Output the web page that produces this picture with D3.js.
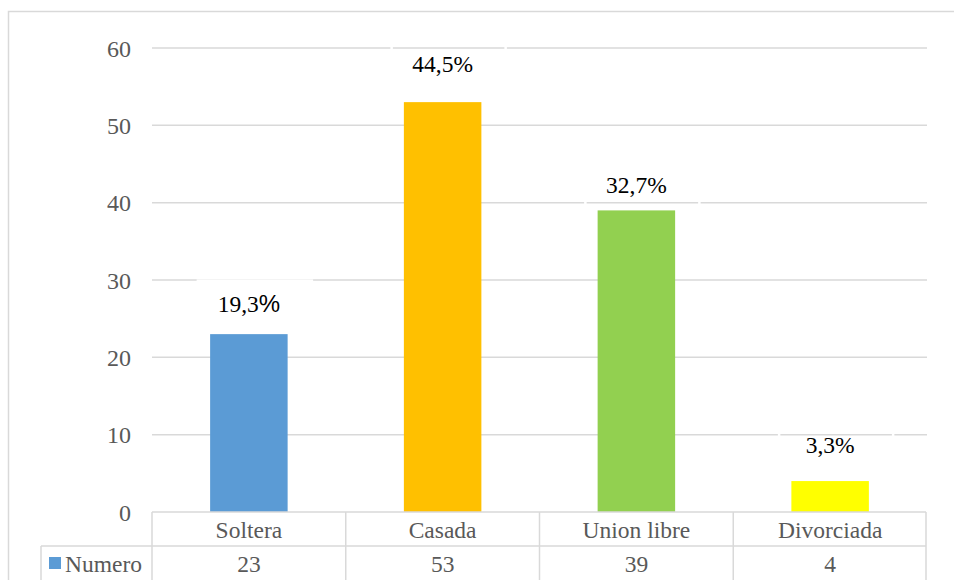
<!DOCTYPE html>
<html>
<head>
<meta charset="utf-8">
<script src="https://cdn.jsdelivr.net/npm/d3@7"></script>
<style>
  html, body { margin: 0; padding: 0; background: #fff; }
  svg { display: block; }
</style>
</head>
<body>
<svg id="chart" width="954" height="580"></svg>
<script>
// Estado civil: number of women per category, with share labels
const categories = ["Soltera", "Casada", "Union libre", "Divorciada"];
const numero = [23, 53, 39, 4];
const shareLabels = ["19,3%", "44,5%", "32,7%", "3,3%"];
const barColors = ["#5B9BD5", "#FFC000", "#92D050", "#FFFF00"];
const yTicks = [0, 10, 20, 30, 40, 50, 60];
const seriesName = "Numero";

const svg = d3.select("#chart");
const W = 954, H = 580;
const plot = { left: 152, right: 927, top: 48, bottom: 512 };
const grey = "#595959";
const lineCol = "#D9D9D9";
const serif = "Liberation Serif, Times New Roman, serif";

// outer chart frame
svg.append("rect")
  .attr("x", 8.5).attr("y", 11.5)
  .attr("width", W + 10).attr("height", H + 10)
  .attr("fill", "#fff").attr("stroke", lineCol).attr("stroke-width", 1.5);

const x = d3.scaleBand().domain(categories).range([plot.left, plot.right]).paddingInner(0.6).paddingOuter(0.3);
const band = d3.scaleBand().domain(categories).range([plot.left, plot.right]);
const y = d3.scaleLinear().domain([0, 60]).range([plot.bottom, plot.top]);
const mid = d => band(d) + band.bandwidth() / 2;

// data labels were nudged individually above their bars
const labelLift = [22, 30, 17, 28];
const labelY = i => y(numero[i]) - labelLift[i];

// horizontal gridlines
svg.append("g").selectAll("line").data(yTicks.filter(t => t > 0)).join("line")
  .attr("x1", plot.left).attr("x2", plot.right)
  .attr("y1", d => y(d)).attr("y2", d => y(d))
  .attr("stroke", lineCol).attr("stroke-width", 1.5);

// y axis labels
const yAxis = d3.axisLeft(y).tickValues(yTicks).tickSize(0).tickPadding(0).tickFormat(d3.format("d"));
const gy = svg.append("g").attr("transform", `translate(${131},0)`).call(yAxis);
gy.select(".domain").remove();
gy.attr("font-family", null).attr("font-size", null);
gy.selectAll("text")
  .attr("fill", grey).style("font-family", serif).style("font-size", "24px")
  .attr("dy", "0.34em");

// bars
svg.append("g").selectAll("rect").data(categories).join("rect")
  .attr("x", d => x(d)).attr("width", x.bandwidth())
  .attr("y", (d, i) => y(numero[i]))
  .attr("height", (d, i) => y(0) - y(numero[i]))
  .attr("fill", (d, i) => barColors[i]);

// white outline of each data-label box (cuts the gridlines it crosses)
svg.append("g").selectAll("rect").data(categories).join("rect")
  .attr("x", d => mid(d) - 51)
  .attr("y", (d, i) => labelY(i) - 31.5)
  .attr("width", 114).attr("height", 43.5)
  .attr("fill", "none").attr("stroke", "#fff").attr("stroke-width", 2.5);

// share labels above bars
const lbl = svg.append("g").selectAll("text").data(categories).join("text")
  .attr("x", d => mid(d))
  .attr("y", (d, i) => labelY(i))
  .attr("text-anchor", "middle")
  .style("font-family", serif).style("font-size", "23.5px").attr("fill", "#000");
lbl.each(function (d, i) {
  const t = d3.select(this);
  const s = shareLabels[i];
  if (i === 0) {
    t.append("tspan").text(s.slice(0, -1));
    t.append("tspan").style("font-family", "Liberation Sans, Arial, sans-serif").style("font-size", "24px").text("%");
  } else {
    t.text(s);
  }
});

// data table below the plot
const rowTop = plot.bottom, rowMid = 546, rowBot = H + 10;
const tableLeft = 41;
const tbl = svg.append("g").attr("stroke", lineCol).attr("stroke-width", 1.5).attr("fill", "none");
tbl.append("line").attr("x1", plot.left).attr("x2", plot.right - 1).attr("y1", rowTop).attr("y2", rowTop);
tbl.append("line").attr("x1", tableLeft).attr("x2", plot.right - 1).attr("y1", rowMid).attr("y2", rowMid);
tbl.append("line").attr("x1", tableLeft).attr("x2", tableLeft).attr("y1", rowMid).attr("y2", rowBot);
const colEdges = categories.map(c => band(c)).concat([plot.right - 1]);
tbl.selectAll(".v").data(colEdges).join("line")
  .attr("x1", d => d).attr("x2", d => d)
  .attr("y1", rowTop).attr("y2", rowBot);

svg.append("g").selectAll("text").data(categories).join("text")
  .attr("x", d => mid(d))
  .attr("y", 530).attr("dy", "0.34em")
  .attr("text-anchor", "middle")
  .style("font-family", serif).style("font-size", "23.5px").attr("fill", grey)
  .text(d => d);

svg.append("g").selectAll("text").data(categories).join("text")
  .attr("x", d => mid(d))
  .attr("y", 564).attr("dy", "0.34em")
  .attr("text-anchor", "middle")
  .style("font-family", serif).style("font-size", "23.5px").attr("fill", grey)
  .text((d, i) => numero[i]);

// legend key in the table header cell
svg.append("rect").attr("x", 49).attr("y", 557).attr("width", 12).attr("height", 12).attr("fill", barColors[0]);
svg.append("text").attr("x", 65).attr("y", 564).attr("dy", "0.34em")
  .style("font-family", serif).style("font-size", "23.5px").attr("fill", grey)
  .text(seriesName);
</script>
</body>
</html>
